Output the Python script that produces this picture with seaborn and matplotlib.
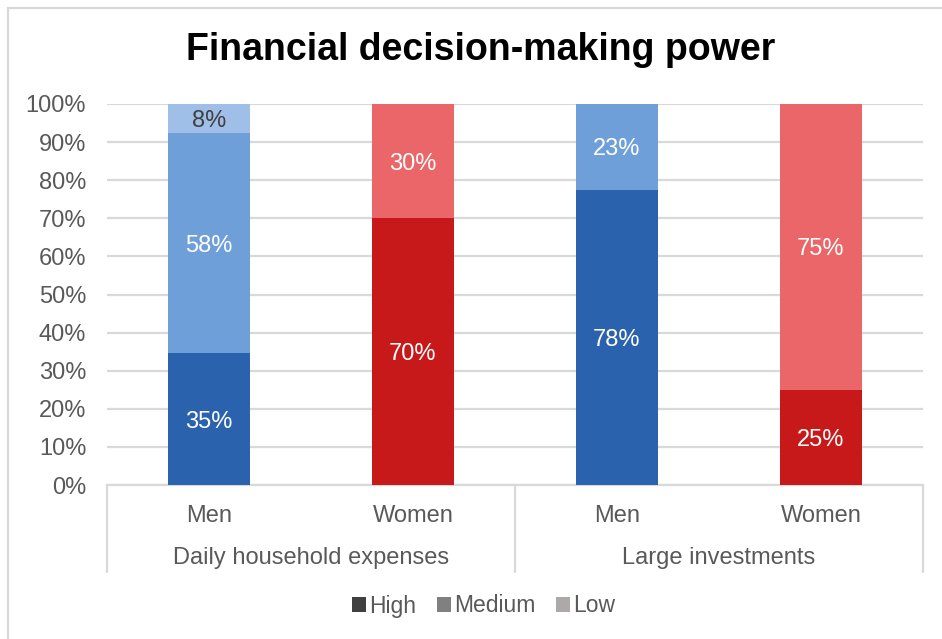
import matplotlib
matplotlib.use("Agg")
import matplotlib.pyplot as plt
from matplotlib.lines import Line2D
from matplotlib.patches import Patch
import seaborn as sns
import pandas as pd
import numpy as np

# Data: share (%) of respondents by decision-making power
groups = ["Daily household expenses", "Large investments"]
genders = ["Men", "Women", "Men", "Women"]
high = [34.6, 70.0, 77.5, 25.0]
medium = [57.7, 30.0, 22.5, 75.0]
low = [7.7, 0.0, 0.0, 0.0]
levels = ["High", "Medium", "Low"]

# Per-bar colours for each level (blue for men, red for women)
high_colors = ["#2B62AD", "#C8191A", "#2B62AD", "#C8191A"]
medium_colors = ["#6F9FD9", "#EB6668", "#6F9FD9", "#EB6668"]
low_colors = ["#A0BFE8", "#F2A0A0", "#A0BFE8", "#F2A0A0"]
legend_colors = ["#404040", "#808080", "#ADA9A9"]
label_colors = ["white", "white", "#404040"]

FS = 17

sns.set_theme(style="white")
plt.rcParams["font.family"] = ["Liberation Sans", "DejaVu Sans"]

slots = [f"{g}|{i}" for i, g in enumerate(genders)]
df = pd.DataFrame({"slot": slots, "high": high, "medium": medium, "low": low})
df["cum_high"] = df["high"]
df["cum_medium"] = df["high"] + df["medium"]
df["cum_low"] = df["cum_medium"] + df["low"]

fig = plt.figure(figsize=(9.42, 6.39), dpi=100)
ax = fig.add_axes([107 / 942, 1 - 485 / 639, (923 - 107) / 942, (485 - 104) / 639])

# Stacked bars drawn as overlaid cumulative totals, tallest first
for col, colors in [("cum_low", low_colors), ("cum_medium", medium_colors), ("cum_high", high_colors)]:
    sns.barplot(data=df, x="slot", y=col, hue="slot", order=slots, hue_order=slots,
                palette=colors, width=0.4, legend=False, ax=ax, saturation=1,
                linewidth=0, zorder=3)

# Value labels centred in each segment
def fmt(v):
    return f"{int(v + 0.5)}%"

for i in range(len(slots)):
    bottom = 0.0
    for vals, tc in zip([high, medium, low], label_colors):
        v = vals[i]
        if v > 0:
            ax.text(i, bottom + v / 2, fmt(v), ha="center", va="center_baseline",
                    fontsize=FS, color=tc, zorder=5)
        bottom += v

ax.set_xlim(-0.5, 3.5)
ax.set_ylim(0, 100)
ax.set_yticks(np.arange(0, 101, 10))
ax.set_yticklabels([f"{t}%" for t in range(0, 101, 10)], fontsize=FS, color="#595959")
ax.tick_params(axis="y", length=0, pad=15)
ax.set_xticks([])
ax.set_xlabel("")
ax.set_ylabel("")
ax.yaxis.grid(True, color="#D9D9D9", linewidth=1.6, zorder=0)
ax.set_axisbelow(True)
for s in ["left", "right", "top"]:
    ax.spines[s].set_visible(False)
ax.spines["bottom"].set_color("#D9D9D9")
ax.spines["bottom"].set_linewidth(1.6)

# Two-level category axis
for i, g in enumerate(genders):
    fig.text((107 + 204 * (i + 0.5)) / 942, 1 - 516 / 639, g, ha="center", va="center",
             fontsize=FS, color="#595959")
for j, grp in enumerate(groups):
    fig.text((107 + 408 * (j + 0.5)) / 942, 1 - 558 / 639, grp, ha="center", va="center",
             fontsize=FS, color="#595959")
for xpx in [107, 515, 923]:
    fig.add_artist(Line2D([xpx / 942, xpx / 942], [1 - 485 / 639, 1 - 572 / 639],
                          color="#D9D9D9", linewidth=1.6))

# Chart border (left and top edges)
fig.add_artist(Line2D([7.5 / 942, 7.5 / 942], [0, 1 - 7.5 / 639], color="#D9D9D9", linewidth=1.6))
fig.add_artist(Line2D([7.5 / 942, 1], [1 - 7.5 / 639, 1 - 7.5 / 639], color="#D9D9D9", linewidth=1.6))

fig.text(481 / 942, 1 - 50 / 639, "Financial decision-making power", ha="center", va="center",
         fontsize=27, fontweight="bold", color="black")

handles = [Patch(facecolor=c, edgecolor="none", label=l) for c, l in zip(legend_colors, levels)]
fig.legend(handles=handles, loc="center", bbox_to_anchor=(484 / 942, 1 - 606 / 639), ncol=3,
           frameon=False, fontsize=16.5, handlelength=0.6, handleheight=0.6,
           handletextpad=0.15, columnspacing=0.9, labelcolor="#595959")

fig.savefig("out.png", dpi=100, facecolor="white")
